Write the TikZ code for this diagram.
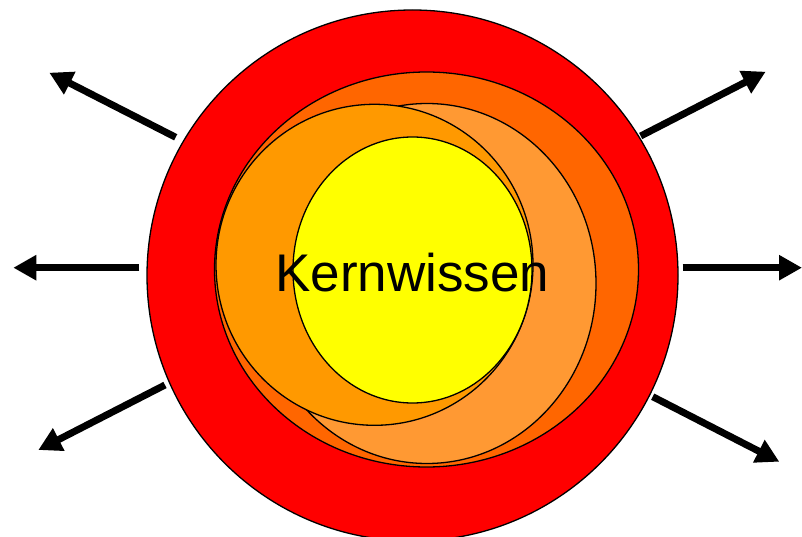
\documentclass[tikz,border=0pt]{standalone}
\usepackage{fontspec}
\setmainfont{Liberation Sans}
\usetikzlibrary{arrows.meta}
\definecolor{cred}{HTML}{FF0000}
\definecolor{cdark}{HTML}{FF6600}
\definecolor{clight}{HTML}{FF9933}
\definecolor{corange}{HTML}{FF9900}
\definecolor{cyellow}{HTML}{FFFF00}
\tikzset{
  ring/.style={draw=black, line width=1.3pt},
  ray/.style={line width=7pt, -{Triangle[length=23pt,width=24pt]}}
}
\begin{document}
\begin{tikzpicture}[x=1pt,y=-1pt]
\useasboundingbox (0,0) rectangle (802,537);
\begin{scope}
\clip (0,0) rectangle (802,537);
\draw[ring, fill=cred] (412.5,275.5) circle [radius=265.5];
\draw[ring, fill=cdark] (426.5,269.5) ellipse [x radius=212, y radius=197.5];
\draw[ring, fill=clight] (427,283.5) ellipse [x radius=169, y radius=180];
\draw[ring, fill=corange] (374.5,264.8) ellipse [x radius=158.5, y radius=160.5];
\draw[ring, fill=cyellow] (412.5,270) ellipse [x radius=119.5, y radius=133];
\end{scope}
\node[anchor=base, inner sep=0pt, font=\fontsize{53}{60}\selectfont] (kern) at (412.5,291) {Kernwissen};
\coordinate (ulA) at (175.7,137.3); \coordinate (ulB) at (49.3,72.7);
\coordinate (lA) at (139.3,267.7);  \coordinate (lB) at (13.3,267.7);
\coordinate (llA) at (165,385);     \coordinate (llB) at (38.3,450);
\coordinate (urA) at (640.7,136);   \coordinate (urB) at (765.7,71.7);
\coordinate (rA) at (682.7,267.7);  \coordinate (rB) at (802,267.7);
\coordinate (lrA) at (652.7,396.7); \coordinate (lrB) at (779.3,461.7);
\draw[ray] (ulA) -- (ulB);
\draw[ray] (lA) -- (lB);
\draw[ray] (llA) -- (llB);
\draw[ray] (urA) -- (urB);
\draw[ray] (rA) -- (rB);
\draw[ray] (lrA) -- (lrB);
\end{tikzpicture}
\end{document}
